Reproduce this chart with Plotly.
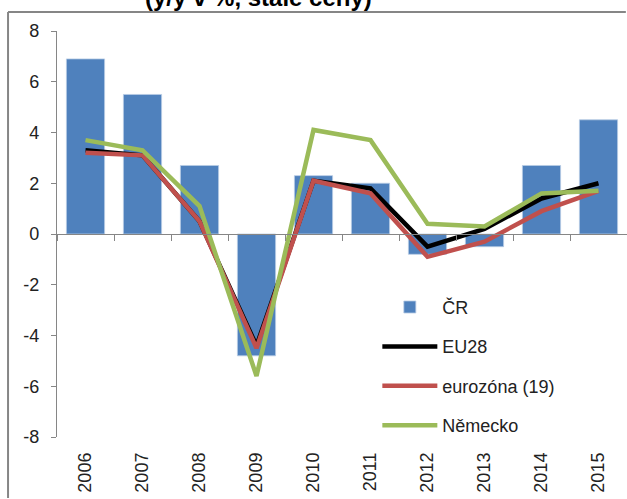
import plotly.graph_objects as go

years = ["2006", "2007", "2008", "2009", "2010", "2011", "2012", "2013", "2014", "2015"]
cr = [6.9, 5.5, 2.7, -4.8, 2.3, 2.0, -0.8, -0.5, 2.7, 4.5]
eu28 = [3.3, 3.1, 0.5, -4.4, 2.1, 1.8, -0.5, 0.2, 1.4, 2.0]
eurozone = [3.2, 3.1, 0.5, -4.5, 2.1, 1.6, -0.9, -0.3, 0.9, 1.7]
germany = [3.7, 3.3, 1.1, -5.6, 4.1, 3.7, 0.4, 0.3, 1.6, 1.7]
y_ticks = [8, 6, 4, 2, 0, -2, -4, -6, -8]
y_tick_text = ["8", "6", "4", "2", "0", "-2", "-4", "-6", "-8"]

FONT = "Liberation Sans, Arial, sans-serif"
AX = "#868686"
TXT = "#222222"

fig = go.Figure()
fig.add_trace(go.Bar(x=years, y=cr, name="ČR", marker=dict(color="#4F81BD", line=dict(color="#B8CCE4", width=0.8)),
                     xaxis="x", yaxis="y", legendgroup="a"))
fig.add_trace(go.Scatter(x=years, y=eu28, name="EU28", mode="lines", line=dict(color="#000000", width=4.5),
                         xaxis="x2", yaxis="y", legendgroup="b"))
fig.add_trace(go.Scatter(x=years, y=eurozone, name="eurozóna (19)", mode="lines", line=dict(color="#C0504D", width=4.5),
                         xaxis="x2", yaxis="y", legendgroup="c"))
fig.add_trace(go.Scatter(x=years, y=germany, name="Německo", mode="lines", line=dict(color="#9BBB59", width=4.5),
                         xaxis="x2", yaxis="y", legendgroup="d"))

frame_x0 = -0.0859
frame_y1 = 1.0468

fig.update_layout(
    width=627, height=499,
    margin=dict(l=57, r=0, t=31, b=62),
    paper_bgcolor="white", plot_bgcolor="white",
    font=dict(family=FONT, size=18, color=TXT),
    bargap=0.33,
    showlegend=True,
    legend=dict(x=0.562, y=0.365, xanchor="left", yanchor="top", bgcolor="rgba(0,0,0,0)",
                font=dict(family=FONT, size=18, color=TXT), tracegroupgap=13,
                itemwidth=55),
    xaxis=dict(type="category", categoryorder="array", categoryarray=years, range=[-0.5, 9.5],
               showline=False, ticks="", tickangle=-90, showgrid=False, zeroline=False,
               ticklabelstandoff=11,
               tickfont=dict(family=FONT, size=18, color=TXT)),
    xaxis2=dict(type="category", categoryorder="array", categoryarray=years, range=[-0.5, 9.5],
                overlaying="x", anchor="free", position=0.5, side="bottom",
                showline=True, linecolor=AX, linewidth=1.3, ticks="outside", tickson="boundaries",
                ticklen=6, tickcolor=AX, tickwidth=1.3, showticklabels=False, showgrid=False, zeroline=False),
    yaxis=dict(range=[-8, 8], tickvals=y_ticks, ticktext=y_tick_text, showline=True, linecolor=AX, linewidth=1.3,
               ticks="outside", ticklen=5, tickcolor=AX, tickwidth=1.3, showgrid=False, zeroline=False,
               ticklabelstandoff=8, tickfont=dict(family=FONT, size=18, color=TXT)),
    shapes=[
        dict(type="line", xref="paper", yref="paper", x0=frame_x0, x1=frame_x0, y0=-0.15, y1=frame_y1,
             line=dict(color=AX, width=2), layer="above"),
        dict(type="line", xref="paper", yref="paper", x0=frame_x0, x1=0.998, y0=frame_y1, y1=frame_y1,
             line=dict(color=AX, width=2), layer="above"),
    ],
    annotations=[
        dict(text="<b>(y/y v %, stálé ceny)</b>", xref="paper", yref="paper", x=0.353, y=1.0815,
             xanchor="center", yanchor="middle", showarrow=False,
             font=dict(family=FONT, size=24, color="#000000")),
    ],
)

fig.write_html("out.html", config={"displayModeBar": False},
               post_script="document.body.style.margin='0';document.body.style.overflow='hidden';")
